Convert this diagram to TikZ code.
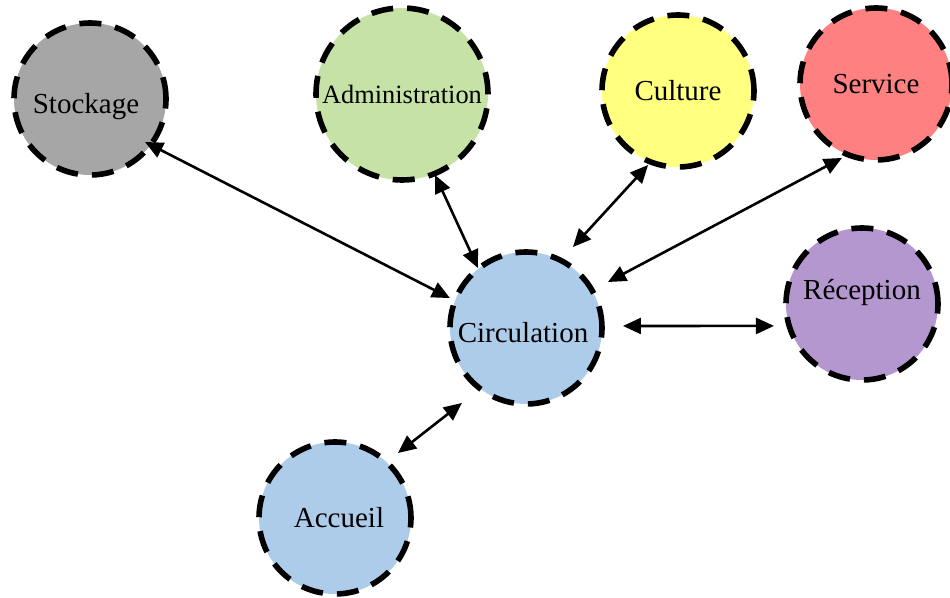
\documentclass[tikz,border=0pt]{standalone}
\usepackage{fontspec}
\setmainfont{Liberation Serif}
\usetikzlibrary{arrows.meta}
\definecolor{zoneGray}{RGB}{166,166,166}
\definecolor{zoneGreen}{RGB}{198,226,167}
\definecolor{zoneYellow}{RGB}{255,255,128}
\definecolor{zoneRed}{RGB}{255,128,128}
\definecolor{zonePurple}{RGB}{180,151,206}
\definecolor{zoneBlue}{RGB}{173,204,233}
\tikzset{
  zone/.style={circle, draw=black, line width=2.8pt, dash pattern=on 11pt off 7pt,
    minimum size=76pt, inner sep=0pt, outer sep=0pt},
  link/.style={{Triangle[length=9pt,width=8pt]}-{Triangle[length=9pt,width=8pt]},
    line width=1.3pt},
}

\begin{document}
\begin{tikzpicture}[x=0.5pt, y=0.5pt, font=\fontsize{14.5}{17}\selectfont]
        \useasboundingbox (0,0) rectangle (950,-598);
        % Zones
        \node[zone, fill=zoneGray, label={[xshift=-2pt, yshift=-4pt]center:Stockage}] (stock) at (90,-99) {};
        \node[zone, fill=zoneGreen, minimum size=86pt,
          label={[font=\fontsize{13.2}{16}\selectfont]center:Administration}] (admin) at (402,-94) {};
        \node[zone, fill=zoneYellow, label={center:Culture}] (cult) at (678,-91) {};
        \node[zone, fill=zoneRed, label={center:Service}] (serv) at (876,-84) {};
        \node[zone, fill=zonePurple, label={[yshift=5.5pt]center:Réception}] (recep) at (862,-304) {};
        \node[zone, fill=zoneBlue, label={[xshift=-1.5pt, yshift=-2.5pt]center:Circulation}] (circ) at (526,-328) {};
        \node[zone, fill=zoneBlue, label={[xshift=2pt]center:Accueil}] (accu) at (335,-518) {};
        % Links to circulation
        \draw[link] ([shift={(-38:69.8)}]stock.center) -- ([shift={(158.5:81.7)}]circ.center);
        \draw[link] ([shift={(-67.8:87.5)}]admin.center) -- ([shift={(128.7:76.8)}]circ.center);
        \draw[link] ([shift={(-112:79.8)}]cult.center) -- ([shift={(59.9:93.6)}]circ.center);
        \draw[link] ([shift={(-114.7:81.4)}]serv.center) -- ([shift={(29.3:94)}]circ.center);
        \draw[link] ([shift={(1.2:97)}]circ.center) -- ([shift={(-166:90.7)}]recep.center);
        \draw[link] ([shift={(-130.5:98.6)}]circ.center) -- ([shift={(45.9:90.5)}]accu.center);
      \end{tikzpicture}
\end{document}
